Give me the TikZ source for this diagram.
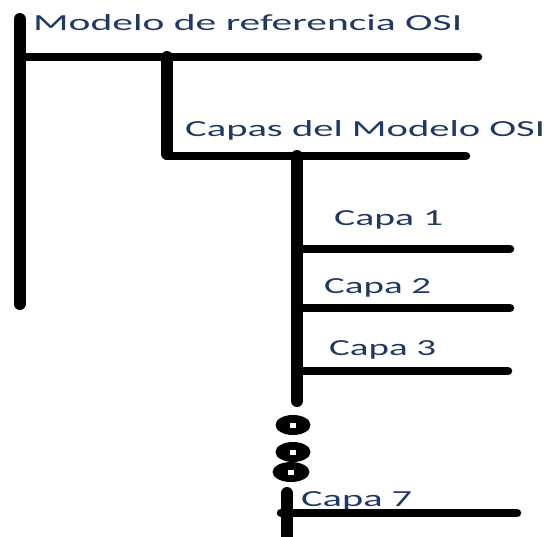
\documentclass[tikz,border=0pt]{standalone}
\usepackage{fontspec}
\setmainfont{Carlito}
\definecolor{txt}{RGB}{31,56,100}
\newcommand{\wtxt}[2]{\resizebox{#1pt}{\height}{#2}}
\begin{document}
\begin{tikzpicture}[x=1pt,y=-1pt,
  lbl/.style={anchor=base west,inner sep=0pt,text=txt,font=\fontsize{23}{23}\selectfont},
  vbar/.style={line width=12pt,line cap=round},
  hbar/.style={line width=8.5pt,line cap=round},
  ring/.style={fill=black},
  hole/.style={fill=white}]
\useasboundingbox (0,0) rectangle (549,536);
% texts
\node[lbl] (t0) at (33,30) {\wtxt{429}{Modelo de referencia OSI}};
\node[lbl] (t1) at (185,136) {\wtxt{360}{Capas del Modelo OSI}};
\node[lbl] (c1) at (334,225) {\wtxt{109}{Capa 1}};
\node[lbl] (c2) at (324,293) {\wtxt{107}{Capa 2}};
\node[lbl] (c3) at (329,355) {\wtxt{107}{Capa 3}};
\node[lbl] (c7) at (301,506) {\wtxt{111}{Capa 7}};
% coordinates
\coordinate (v1t) at (19.5,19);
\coordinate (v1b) at (19.5,304);
\coordinate (h1s) at (19.5,57);
\coordinate (h1e) at (478,57);
\coordinate (v2t) at (167,57);
\coordinate (v2b) at (167,154);
\coordinate (h2s) at (167,156);
\coordinate (h2e) at (466,156);
\coordinate (v3t) at (297,156);
\coordinate (v3b) at (297,401);
\coordinate (l1s) at (297,249);
\coordinate (l1e) at (510,249);
\coordinate (l2s) at (297,308);
\coordinate (l2e) at (510,308);
\coordinate (l3s) at (297,371);
\coordinate (l3e) at (508,371);
\coordinate (v4t) at (287,493);
\coordinate (v4b) at (287,540);
\coordinate (l7s) at (281,513);
\coordinate (l7e) at (517,513);
% lines
\draw[vbar] (v1t) -- (v1b);
\draw[hbar] (h1s) -- (h1e);
\draw[vbar] (v2t) -- (v2b);
\draw[hbar] (h2s) -- (h2e);
\draw[vbar] (v3t) -- (v3b);
\draw[hbar] (l1s) -- (l1e);
\draw[hbar] (l2s) -- (l2e);
\draw[hbar] (l3s) -- (l3e);
\draw[vbar] (v4t) -- (v4b);
\draw[hbar] (l7s) -- (l7e);
% dots
\fill[ring] (293,425) ellipse [x radius=17.5, y radius=10];
\fill[ring] (293,452) ellipse [x radius=17.5, y radius=10];
\fill[ring] (291,472) ellipse [x radius=18.5, y radius=10];
\fill[hole] (290,422.5) rectangle (296,427.5);
\fill[hole] (290,449.5) rectangle (296,454.5);
\fill[hole] (288,469.5) rectangle (294,474.5);
\end{tikzpicture}
\end{document}
